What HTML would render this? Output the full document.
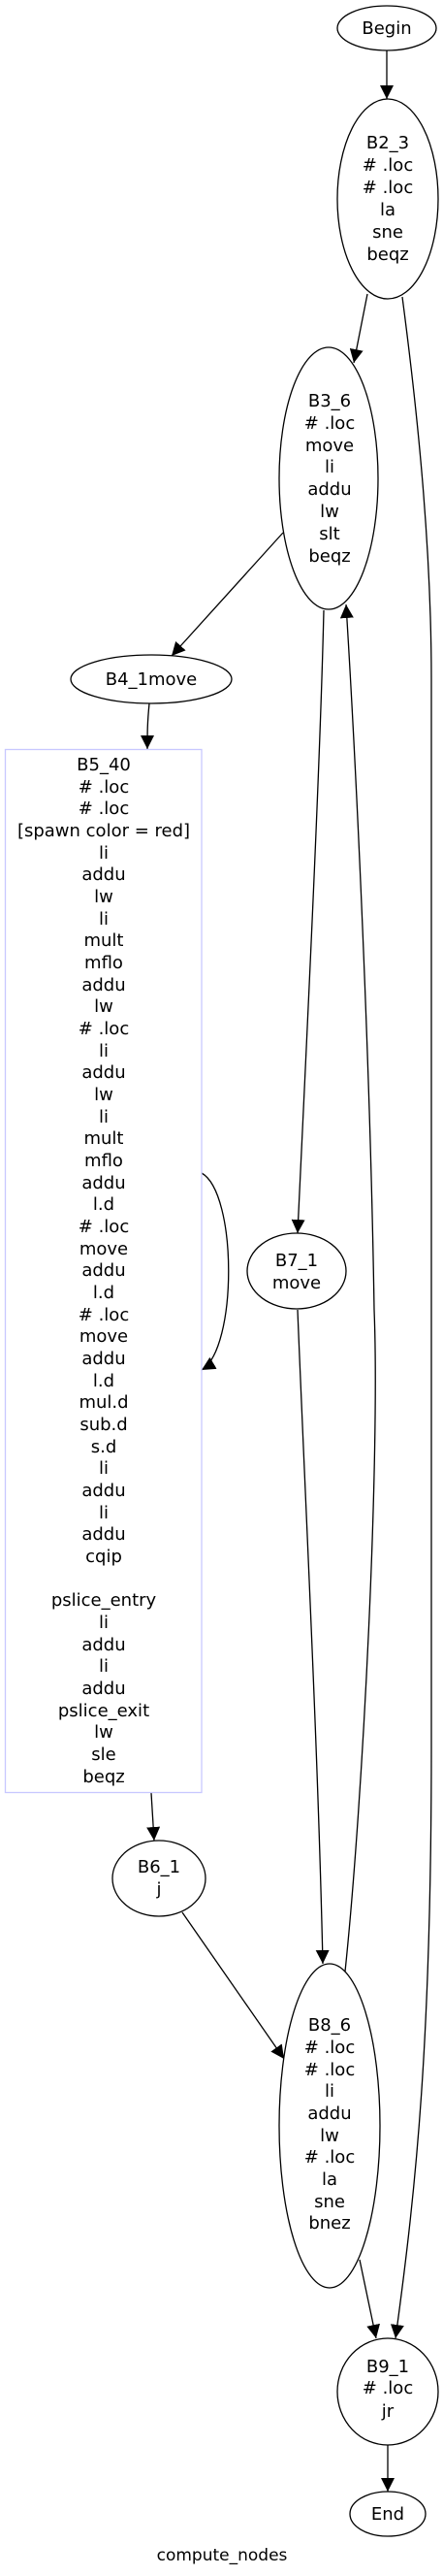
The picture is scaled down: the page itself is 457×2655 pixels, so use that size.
<!DOCTYPE html>
<html><head><meta charset="utf-8"><style>
html,body{margin:0;padding:0;background:#fff}
svg{display:block}
text{font-family:"DejaVu Sans","Liberation Sans",sans-serif;font-size:18px;text-anchor:middle;fill:#000}
.e{fill:none;stroke:#000;stroke-width:1.3}
.n{fill:#fff;stroke:#000;stroke-width:1.3}
</style></head><body>
<svg width="457" height="2655" viewBox="0 0 457 2655" xmlns="http://www.w3.org/2000/svg">
<defs><marker id="a" viewBox="0 0 10 10" refX="10" refY="5" markerWidth="14" markerHeight="14" markerUnits="userSpaceOnUse" orient="auto"><path d="M0,0 L10,5 L0,10 z" fill="#000"/></marker></defs>

<path class="e" marker-end="url(#a)" d="M399,52 L399,102"/>
<path class="e" marker-end="url(#a)" d="M379,303 L365,374"/>
<path class="e" marker-end="url(#a)" d="M415,306 C430,420 445,560 445,700 L445,1800 C445,2100 430,2250 408,2410"/>
<path class="e" marker-end="url(#a)" d="M292,549 L177,676"/>
<path class="e" marker-end="url(#a)" d="M154,725 C152,745 152,755 152,772"/>
<path class="e" marker-end="url(#a)" d="M208,1209 C245,1230 245,1390 208,1412"/>
<path class="e" marker-end="url(#a)" d="M334,629 C330,800 315,1100 307,1271"/>
<path class="e" marker-end="url(#a)" d="M307,1350 C315,1550 328,1800 333,2024"/>
<path class="e" marker-end="url(#a)" d="M356,2032 C375,1850 392,1500 386,1350 C382,1100 368,800 357,623"/>
<path class="e" marker-end="url(#a)" d="M156,1848 L159,1897"/>
<path class="e" marker-end="url(#a)" d="M188,1971 L293,2122"/>
<path class="e" marker-end="url(#a)" d="M371,2329 L388,2410"/>
<path class="e" marker-end="url(#a)" d="M400,2519 L400,2568"/>

<ellipse class="n" cx="399" cy="29" rx="51" ry="23"/>
<text x="399" y="35">Begin</text>

<ellipse class="n" cx="400" cy="205" rx="52" ry="103"/>
<text x="400" y="153">B2_3</text><text x="400" y="176"># .loc</text><text x="400" y="199"># .loc</text><text x="400" y="222">la</text><text x="400" y="245">sne</text><text x="400" y="268">beqz</text>

<ellipse class="n" cx="339" cy="493" rx="51" ry="135"/>
<text x="340" y="419">B3_6</text><text x="340" y="442"># .loc</text><text x="340" y="465">move</text><text x="340" y="487">li</text><text x="340" y="510">addu</text><text x="340" y="533">lw</text><text x="340" y="556">slt</text><text x="340" y="579">beqz</text>

<ellipse class="n" cx="156" cy="700" rx="83" ry="25"/>
<text x="156" y="706">B4_1move</text>

<rect x="5.5" y="772.5" width="202.5" height="1075" fill="#fff" stroke="#c8c8ff" stroke-width="1.3"/>
<g>
<text x="107" y="794">B5_40</text>
<text x="107" y="817"># .loc</text>
<text x="107" y="839"># .loc</text>
<text x="107" y="862">[spawn color = red]</text>
<text x="107" y="885">li</text>
<text x="107" y="907">addu</text>
<text x="107" y="930">lw</text>
<text x="107" y="953">li</text>
<text x="107" y="975">mult</text>
<text x="107" y="998">mflo</text>
<text x="107" y="1021">addu</text>
<text x="107" y="1043">lw</text>
<text x="107" y="1066"># .loc</text>
<text x="107" y="1089">li</text>
<text x="107" y="1111">addu</text>
<text x="107" y="1134">lw</text>
<text x="107" y="1157">li</text>
<text x="107" y="1179">mult</text>
<text x="107" y="1202">mflo</text>
<text x="107" y="1225">addu</text>
<text x="107" y="1247">l.d</text>
<text x="107" y="1270"># .loc</text>
<text x="107" y="1293">move</text>
<text x="107" y="1315">addu</text>
<text x="107" y="1338">l.d</text>
<text x="107" y="1361"># .loc</text>
<text x="107" y="1383">move</text>
<text x="107" y="1406">addu</text>
<text x="107" y="1429">l.d</text>
<text x="107" y="1451">mul.d</text>
<text x="107" y="1474">sub.d</text>
<text x="107" y="1497">s.d</text>
<text x="107" y="1519">li</text>
<text x="107" y="1542">addu</text>
<text x="107" y="1565">li</text>
<text x="107" y="1587">addu</text>
<text x="107" y="1610">cqip</text>
<text x="107" y="1655">pslice_entry</text>
<text x="107" y="1678">li</text>
<text x="107" y="1701">addu</text>
<text x="107" y="1723">li</text>
<text x="107" y="1746">addu</text>
<text x="107" y="1769">pslice_exit</text>
<text x="107" y="1791">lw</text>
<text x="107" y="1814">sle</text>
<text x="107" y="1837">beqz</text>
</g>

<ellipse class="n" cx="306" cy="1310" rx="51" ry="39"/>
<text x="306" y="1305">B7_1</text><text x="306" y="1328">move</text>

<ellipse class="n" cx="164" cy="1936" rx="48" ry="39"/>
<text x="164" y="1930">B6_1</text><text x="164" y="1953">j</text>

<ellipse class="n" cx="340" cy="2191" rx="52" ry="167"/>
<text x="340" y="2093">B8_6</text><text x="340" y="2116"># .loc</text><text x="340" y="2139"># .loc</text><text x="340" y="2161">li</text><text x="340" y="2184">addu</text><text x="340" y="2207">lw</text><text x="340" y="2229"># .loc</text><text x="340" y="2252">la</text><text x="340" y="2275">sne</text><text x="340" y="2297">bnez</text>

<ellipse class="n" cx="400" cy="2465" rx="52" ry="55"/>
<text x="400" y="2445">B9_1</text><text x="400" y="2467"># .loc</text><text x="400" y="2491">jr</text>

<ellipse class="n" cx="400" cy="2591" rx="39" ry="23"/>
<text x="400" y="2597">End</text>

<text x="229" y="2639" style="font-size:17px">compute_nodes</text>
</svg>
</body></html>
